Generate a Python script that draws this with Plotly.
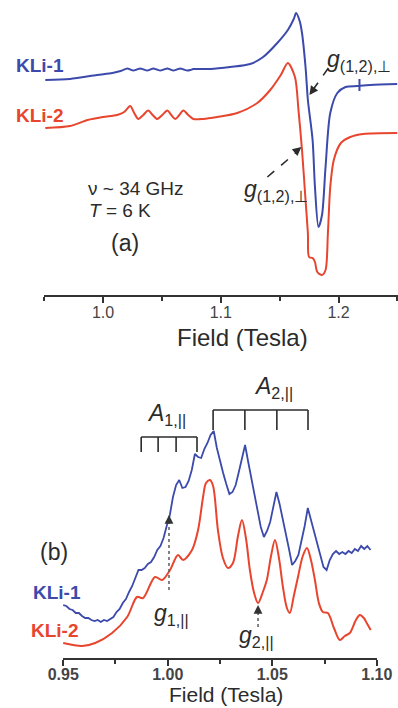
import plotly.graph_objects as go

BLUE = "#3b4aab"
RED = "#e8452e"
INK = "#2b2b2b"
FONT = "Arial, Liberation Sans, sans-serif"

# ---------- (a) full Q-band spectra: field (T) vs dI/dB (a.u., stacked) ----------
field_a_kli1 = [0.951, 0.972, 0.995, 1.008, 1.015, 1.0206, 1.0232, 1.0257, 1.0287, 1.0316,
                1.0346, 1.0376, 1.0402, 1.0427, 1.0457, 1.0486, 1.0516, 1.0546, 1.0572, 1.0597,
                1.0627, 1.0656, 1.0686, 1.0716, 1.0742, 1.0767, 1.082, 1.091, 1.108, 1.125,
                1.136, 1.148, 1.157, 1.162, 1.164, 1.167, 1.169, 1.172, 1.174, 1.178,
                1.180, 1.183, 1.186, 1.189, 1.193, 1.199, 1.206, 1.216, 1.227, 1.250]
signal_a_kli1 = [2.15, 2.16, 2.20, 2.22, 2.24, 2.265, 2.255, 2.245, 2.255, 2.265,
                 2.255, 2.245, 2.255, 2.265, 2.255, 2.245, 2.255, 2.265, 2.255, 2.245,
                 2.255, 2.265, 2.255, 2.245, 2.25, 2.26, 2.26, 2.26, 2.28, 2.31,
                 2.38, 2.52, 2.65, 2.76, 2.82, 2.74, 2.62, 2.28, 1.95, 1.55,
                 1.08, 0.68, 0.80, 1.28, 1.82, 2.02, 2.08, 2.09, 2.10, 2.11]

field_a_kli2 = [0.951, 0.972, 0.987, 1.000, 1.012, 1.0180, 1.0231, 1.0265, 1.0299, 1.0342,
                1.0384, 1.0422, 1.0461, 1.0503, 1.0546, 1.0580, 1.0614, 1.0648, 1.0682, 1.0724,
                1.0767, 1.085, 1.097, 1.114, 1.131, 1.142, 1.151, 1.157, 1.163, 1.166,
                1.169, 1.172, 1.174, 1.175, 1.178, 1.180, 1.182, 1.186, 1.189, 1.191,
                1.193, 1.196, 1.202, 1.210, 1.221, 1.250]
signal_a_kli2 = [1.67, 1.69, 1.75, 1.78, 1.80, 1.83, 1.89, 1.82, 1.76, 1.80,
                 1.845, 1.80, 1.76, 1.80, 1.845, 1.80, 1.76, 1.80, 1.845, 1.80,
                 1.76, 1.76, 1.78, 1.82, 1.92, 2.05, 2.20, 2.32, 2.18, 1.85,
                 1.45, 0.95, 0.62, 0.38, 0.37, 0.33, 0.23, 0.20, 0.25, 0.62,
                 1.08, 1.35, 1.52, 1.58, 1.61, 1.62]

# ---------- (b) parallel region ----------
field_b_kli1 = [0.9500, 0.9515, 0.9530, 0.9545, 0.9560, 0.9575, 0.9590, 0.9605, 0.9620, 0.9635,
                0.9650, 0.9665, 0.9680, 0.9695, 0.9710, 0.9725, 0.9740, 0.9755, 0.9770, 0.9785,
                0.9800, 0.9815, 0.9830, 0.9845, 0.9860, 0.9875, 0.9890, 0.9905, 0.9920, 0.9935,
                0.9950, 0.9965, 0.9980, 0.9995, 1.0010, 1.0025, 1.0040, 1.0055, 1.0070, 1.0085,
                1.0100, 1.0115, 1.0130, 1.0145, 1.0160, 1.0175, 1.0190, 1.0205, 1.0220, 1.0235,
                1.0250, 1.0265, 1.0280, 1.0295, 1.0310, 1.0325, 1.0340, 1.0355, 1.0370, 1.0385,
                1.0400, 1.0415, 1.0430, 1.0445, 1.0460, 1.0475, 1.0490, 1.0505, 1.0520, 1.0535,
                1.0550, 1.0565, 1.0580, 1.0595, 1.0610, 1.0625, 1.0640, 1.0655, 1.0670, 1.0685,
                1.0700, 1.0715, 1.0730, 1.0745, 1.0760, 1.0775, 1.0790, 1.0805, 1.0820, 1.0835,
                1.0850, 1.0865, 1.0880, 1.0895, 1.0910, 1.0925, 1.0940, 1.0955, 1.0970]
signal_b_kli1 = [0.53, 0.52, 0.49, 0.48, 0.45, 0.45, 0.42, 0.40, 0.40, 0.38,
                 0.37, 0.38, 0.36, 0.38, 0.37, 0.39, 0.41, 0.46, 0.49, 0.55,
                 0.59, 0.66, 0.72, 0.80, 0.88, 0.88, 0.90, 0.94, 0.96, 1.01,
                 1.08, 1.12, 1.20, 1.32, 1.43, 1.61, 1.73, 1.78, 1.70, 1.71,
                 1.77, 1.88, 2.04, 2.01, 2.00, 2.09, 2.15, 2.23, 2.27, 2.10,
                 1.96, 1.85, 1.74, 1.64, 1.66, 1.73, 1.86, 2.01, 2.13, 1.96,
                 1.79, 1.64, 1.47, 1.31, 1.21, 1.27, 1.36, 1.52, 1.66, 1.54,
                 1.40, 1.23, 1.09, 0.93, 0.97, 1.03, 1.16, 1.32, 1.50, 1.38,
                 1.27, 1.13, 1.02, 0.91, 0.88, 0.98, 1.04, 1.07, 1.04, 1.06,
                 1.04, 1.07, 1.05, 1.09, 1.07, 1.12, 1.09, 1.12, 1.08]

field_b_kli2 = [0.9500, 0.9591, 0.9653, 0.9734, 0.9806, 0.9853, 0.9882, 0.9939, 0.9973, 1.0011,
                1.0049, 1.0073, 1.0116, 1.0145, 1.0169, 1.0183, 1.0202, 1.0217, 1.0240, 1.0264,
                1.0288, 1.0312, 1.0336, 1.0355, 1.0374, 1.0393, 1.0412, 1.0432, 1.0455, 1.0474,
                1.0494, 1.0513, 1.0532, 1.0551, 1.0570, 1.0584, 1.0603, 1.0623, 1.0646, 1.0666,
                1.0685, 1.0704, 1.0723, 1.0742, 1.0766, 1.0795, 1.0823, 1.0847, 1.0871, 1.0900,
                1.0919, 1.0938, 1.0952, 1.0971]
signal_b_kli2 = [0.15, 0.12, 0.15, 0.25, 0.41, 0.61, 0.60, 0.81, 0.78, 0.88,
                 1.03, 0.98, 1.08, 1.28, 1.61, 1.75, 1.78, 1.72, 1.28, 1.00,
                 0.90, 0.95, 1.22, 1.38, 1.20, 0.88, 0.66, 0.55, 0.66, 0.78,
                 1.02, 1.18, 1.00, 0.71, 0.50, 0.45, 0.62, 0.81, 1.02, 1.10,
                 0.98, 0.78, 0.55, 0.46, 0.45, 0.30, 0.18, 0.22, 0.25, 0.38,
                 0.43, 0.40, 0.35, 0.28]

# hyperfine stick positions (T)
a1_lines = [0.9873, 0.9954, 1.0040, 1.0140]
a2_lines = [1.0217, 1.0369, 1.0522, 1.0671]
g1_par = 1.0006
g2_par = 1.0432

W, H = 398, 708


def px(x):
    return x / W


def py(y):
    return 1 - y / H


fig = go.Figure()
fig.add_trace(go.Scatter(x=field_a_kli1, y=signal_a_kli1, mode="lines",
                         line=dict(color=BLUE, width=2, shape="spline", smoothing=0.8),
                         xaxis="x", yaxis="y", showlegend=False))
fig.add_trace(go.Scatter(x=field_a_kli2, y=signal_a_kli2, mode="lines",
                         line=dict(color=RED, width=2, shape="spline", smoothing=0.8),
                         xaxis="x", yaxis="y", showlegend=False))
fig.add_trace(go.Scatter(x=field_b_kli1, y=signal_b_kli1, mode="lines",
                         line=dict(color=BLUE, width=1.8),
                         xaxis="x2", yaxis="y2", showlegend=False))
fig.add_trace(go.Scatter(x=field_b_kli2, y=signal_b_kli2, mode="lines",
                         line=dict(color=RED, width=2, shape="spline", smoothing=0.9),
                         xaxis="x2", yaxis="y2", showlegend=False))

axis_common = dict(showgrid=False, zeroline=False, showline=True, linecolor="#333",
                   linewidth=1.5, ticks="outside", tickcolor="#333", tickwidth=1.5,
                   ticklen=6, automargin=False)

fig.update_layout(
    width=W, height=H,
    margin=dict(l=0, r=0, t=0, b=0, pad=0, autoexpand=False),
    paper_bgcolor="white", plot_bgcolor="white",
    font=dict(family=FONT, color=INK),
    xaxis=dict(domain=[44 / W, 397.5 / W], range=[0.9499, 1.2501], anchor="y",
               dtick=0.1, tick0=1.0, tickformat=".1f", ticklabelstandoff=-4,
               tickfont=dict(size=16, color="#444"),
               minor=dict(ticks="outside", dtick=0.05, tick0=0.95, ticklen=4,
                          tickcolor="#333", tickwidth=1.5),
               **axis_common),
    yaxis=dict(domain=[py(295), 1], range=[0, 2.95], visible=False, automargin=False),
    xaxis2=dict(domain=[63 / W, 377 / W], range=[0.9499, 1.1001], anchor="y2",
                dtick=0.05, tick0=0.95, tickformat=".2f", ticklabelstandoff=-5,
                tickfont=dict(size=16, color="#444", weight="bold"),
                minor=dict(ticks="outside", dtick=0.025, tick0=0.95, ticklen=4,
                           tickcolor="#333", tickwidth=1.5),
                **axis_common),
    yaxis2=dict(domain=[py(658), py(370)], range=[0, 2.88], visible=False, automargin=False),
)

shapes = []
# small marker on the upper trace
shapes.append(dict(type="line", xref="x", yref="y", x0=1.2178, x1=1.2178, y0=2.04, y1=2.16,
                   line=dict(color=BLUE, width=2)))
# dashed pointers to g(1,2),perp
shapes.append(dict(type="line", xref="x", yref="y", x0=1.1914, y0=2.27, x1=1.1770, y1=2.03,
                   line=dict(color=INK, width=1.6, dash="dash")))
shapes.append(dict(type="line", xref="x", yref="y", x0=1.1396, y0=1.18, x1=1.1665, y1=1.45,
                   line=dict(color=INK, width=1.6, dash="dash")))
# dotted pointers to g parallel
shapes.append(dict(type="line", xref="x2", yref="y2", x0=g1_par, x1=g1_par, y0=0.68, y1=1.38,
                   line=dict(color="#666", width=1.6, dash="dot")))
shapes.append(dict(type="line", xref="x2", yref="y2", x0=g2_par, x1=g2_par, y0=0.31, y1=0.49,
                   line=dict(color="#666", width=1.6, dash="dot")))

# hyperfine stick diagrams
for lines, top, bottom in ((a1_lines, 2.21, 2.06), (a2_lines, 2.48, 2.28)):
    shapes.append(dict(type="line", xref="x2", yref="y2", x0=lines[0], x1=lines[-1],
                       y0=top, y1=top, line=dict(color=INK, width=1.6)))
    for b in lines:
        shapes.append(dict(type="line", xref="x2", yref="y2", x0=b, x1=b,
                           y0=top, y1=bottom, line=dict(color=INK, width=1.6)))
fig.update_layout(shapes=shapes)

ann = []


def text(x, y, s, size, color=INK, bold=False, xanchor="center", yanchor="middle"):
    ann.append(dict(x=px(x), y=py(y), xref="paper", yref="paper", text=s, showarrow=False,
                    xanchor=xanchor, yanchor=yanchor,
                    font=dict(size=size, color=color, family=FONT,
                              weight="bold" if bold else "normal")))


def head(xref, yref, x, y, ax, ay, color=INK):
    ann.append(dict(x=x, y=y, xref=xref, yref=yref, ax=ax, ay=ay, text="",
                    showarrow=True, arrowhead=2, arrowsize=1.1, arrowwidth=1.6,
                    arrowcolor=color))


text(40, 66, "KLi-1", 19, BLUE, True)
text(40, 116, "KLi-2", 19, RED, True)
text(136, 188, "ν ~ 34 GHz", 19)
text(120, 210, "<i>T</i> = 6 K", 19)
text(125, 243, "(a)", 23)
text(242, 337, "Field (Tesla)", 24)

text(54, 552, "(b)", 23)
text(57, 592, "KLi-1", 19, BLUE, True)
text(55, 630, "KLi-2", 19, RED, True)
text(226, 708, "Field (Tesla)", 21, yanchor="bottom")

text(325, 61, "<i>g</i><sub>(1,2),⊥</sub>", 23, xanchor="left")
text(242, 190, "<i>g</i><sub>(1,2),⊥</sub>", 23, xanchor="left")
text(152, 614, "<i>g</i><sub>1,||</sub>", 23, xanchor="left")
text(237, 636, "<i>g</i><sub>2,||</sub>", 23, xanchor="left")
text(145, 414, "<i>A</i><sub>1,||</sub>", 23, xanchor="left")
text(252, 388, "<i>A</i><sub>2,||</sub>", 23, xanchor="left")

head("x", "y", 1.1753, 2.00, 5, -7)
head("x", "y", 1.1685, 1.48, -6, 5)
head("x2", "y2", g1_par, 1.43, 0, 7, "#333")
head("x2", "y2", g2_par, 0.53, 0, 7, "#333")

fig.update_layout(annotations=ann)
fig.write_html("out.html")
